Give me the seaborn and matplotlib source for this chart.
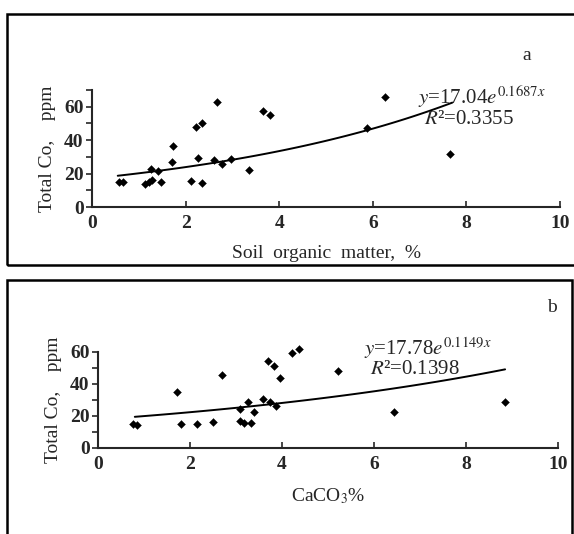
import numpy as np
import matplotlib
matplotlib.use("Agg")
import matplotlib.pyplot as plt
from matplotlib.patches import Rectangle
from matplotlib.ticker import MultipleLocator
import seaborn as sns

sns.set_theme(style="ticks")
plt.rcParams["font.family"] = ["Liberation Serif", "DejaVu Serif"]
plt.rcParams["mathtext.fontset"] = "stix"

# Panel a: soil organic matter (%) vs total Co (ppm)
som_pct = [0.58, 0.67, 1.14, 1.21, 1.28, 1.27, 1.40, 1.48, 1.71, 1.73,
           2.11, 2.22, 2.26, 2.36, 2.36, 2.61, 2.67, 2.78, 2.98, 3.35,
           3.66, 3.81, 5.88, 6.27, 7.65]
co_som = [14.7, 15.2, 14.0, 15.0, 16.2, 23.0, 21.3, 15.1, 27.1, 36.3,
          15.5, 47.7, 29.6, 50.3, 14.5, 28.4, 62.8, 25.9, 28.5, 22.2,
          57.6, 55.1, 47.1, 66.1, 31.9]
fit_a = (17.04, 0.1687)
range_a = (0.55, 7.7)

# Panel b: CaCO3 (%) vs total Co (ppm)
caco3_pct = [0.75, 0.85, 1.72, 1.80, 2.15, 2.50, 2.70, 3.08, 3.08, 3.17,
             3.26, 3.33, 3.39, 3.59, 3.70, 3.73, 3.82, 3.88, 3.95, 4.22,
             4.37, 5.21, 6.43, 8.85]
co_caco3 = [15.0, 14.5, 35.2, 15.0, 14.8, 16.4, 45.6, 24.5, 16.9, 15.8,
            28.5, 15.8, 22.7, 30.4, 54.4, 28.9, 51.4, 26.2, 43.9, 59.2,
            61.7, 48.3, 22.7, 28.9]
fit_b = (17.78, 0.1149)
range_b = (0.8, 8.85)

W, H = 574, 534
fig = plt.figure(figsize=(W / 100, H / 100), dpi=100)


def fx(px):
    return px / W


def fy(py):
    return 1 - py / H


# frames around the panels
fig.add_artist(Rectangle((fx(7), fy(265)), fx(600 - 7), fy(14) - fy(265),
                         transform=fig.transFigure, fill=False, lw=1.8,
                         edgecolor="black"))
fig.add_artist(Rectangle((fx(7), fy(560)), fx(572 - 7), fy(280) - fy(560),
                         transform=fig.transFigure, fill=False, lw=1.8,
                         edgecolor="black"))


def panel(rect, xs, ys, fit, xr, ymax, xlabel, eq, r2, eq_pos, letter, letter_pos):
    ax = fig.add_axes(rect)
    sns.scatterplot(x=xs, y=ys, ax=ax, marker="D", s=16, color="black",
                    edgecolor="black", linewidth=0.3, zorder=3, clip_on=False)
    xf = np.linspace(xr[0], xr[1], 100)
    sns.lineplot(x=xf, y=fit[0] * np.exp(fit[1] * xf), ax=ax, color="black",
                 lw=1.4)
    ax.set_xlim(0, 10)
    ax.set_ylim(0, ymax)
    ax.xaxis.set_major_locator(MultipleLocator(2))
    ax.yaxis.set_major_locator(MultipleLocator(20))
    ax.yaxis.set_minor_locator(MultipleLocator(10))
    ax.tick_params(axis="x", direction="in", length=4, width=1.2, labelsize=14,
                   pad=6)
    ax.tick_params(axis="y", which="both", direction="out", length=4,
                   width=1.2, labelsize=14, pad=2)
    for lab in ax.get_xticklabels() + ax.get_yticklabels():
        lab.set_fontweight("bold")
    sns.despine(ax=ax)
    for s in ("left", "bottom"):
        ax.spines[s].set_linewidth(1.5)
    ax.set_xlabel(xlabel, fontsize=14, labelpad=9)
    ax.set_ylabel("Total Co,    ppm", fontsize=14, labelpad=6)
    ax.text(eq_pos[0], eq_pos[1], eq, transform=fig.transFigure, fontsize=15,
            ha="left", va="center")
    ax.text(eq_pos[0] + fx(6), eq_pos[1] - (fy(0) - fy(22)), r2,
            transform=fig.transFigure, fontsize=15, ha="left", va="center")
    ax.text(letter_pos[0], letter_pos[1], letter, transform=fig.transFigure,
            fontsize=14, ha="center", va="center")
    return ax


panel([fx(92), fy(207), fx(560 - 92), fy(90) - fy(207)],
      som_pct, co_som, fit_a, range_a, 70,
      "Soil  organic  matter,  %",
      r"$y$=17.04$e^{0.1687x}$", r"$R$²=0.3355",
      (fx(418), fy(97)), "a", (fx(527), fy(56)))

panel([fx(98), fy(448), fx(558 - 98), fy(352) - fy(448)],
      caco3_pct, co_caco3, fit_b, range_b, 60,
      r"CaCO$_3$%",
      r"$y$=17.78$e^{0.1149x}$", r"$R$²=0.1398",
      (fx(364), fy(348)), "b", (fx(552), fy(308)))

fig.savefig("out.png", dpi=100)
